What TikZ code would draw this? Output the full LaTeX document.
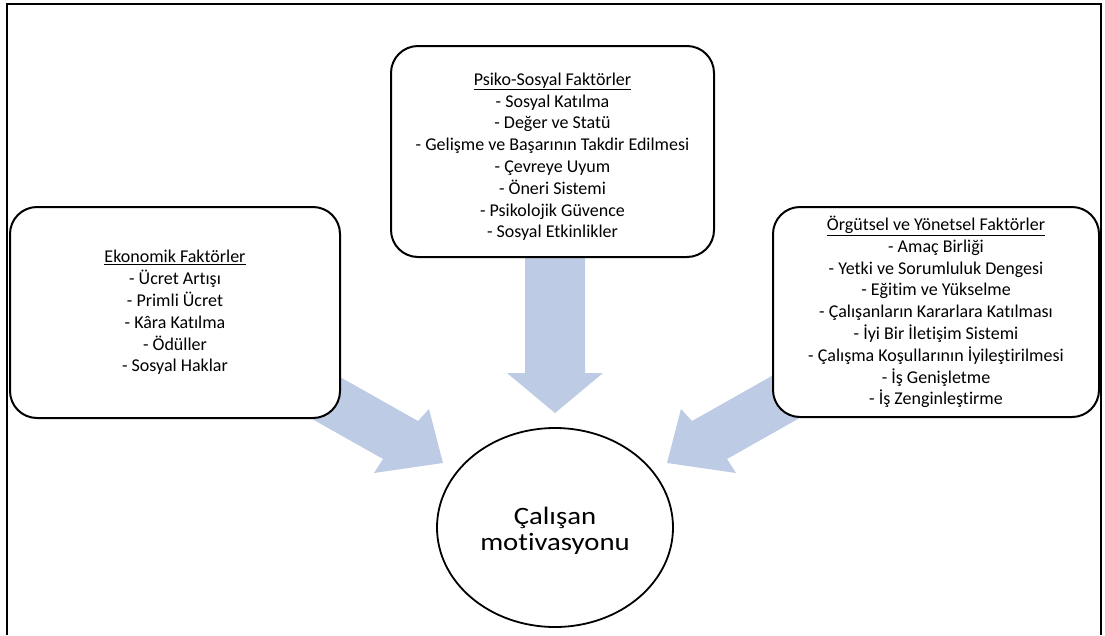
\documentclass[tikz,border=0pt]{standalone}
\usepackage{fontspec}
\setmainfont[Ligatures=NoCommon]{Carlito}
\usetikzlibrary{shapes.geometric}
\definecolor{arrowblue}{RGB}{189,204,228}
\tikzset{
  factorbox/.style={draw=black, line width=2pt, fill=white, rounded corners=27pt,
    align=center, inner sep=0pt, font=\fontsize{18}{21.8}\selectfont},
  blockarrow/.style={fill=arrowblue, draw=none},
  goal/.style={ellipse, draw=black, line width=1.8pt, fill=white, inner sep=0pt, align=center},
  frameline/.style={line width=2.2pt, draw=black}
}
\begin{document}
\begin{tikzpicture}[x=1pt,y=-1pt]
\useasboundingbox (0,0) rectangle (1105,635);
\draw[frameline] (7,635) -- (7,4) -- (1101,4) -- (1101,635);
% block arrows
\fill[blockarrow] (525,250) -- (585,250) -- (585,373) -- (603,373) -- (555,413) -- (507,373) -- (525,373) -- cycle;
\fill[blockarrow] (300,354.4) -- (418,421) -- (429,409) -- (443,463) -- (374,473) -- (383,459) -- (290,406.5) -- cycle;
\fill[blockarrow] (810,354.4) -- (692,421) -- (681,409) -- (667,463) -- (736,473) -- (727,459) -- (820,406.5) -- cycle;
% boxes
\node[factorbox, minimum width=323pt, minimum height=211pt] (psiko) at (552.5,151.5)
  {\rule{0pt}{23pt}\underline{Psiko-Sosyal Faktörler}\\
   - Sosyal Katılma\\
   - Değer ve Statü\\
   - Gelişme ve Başarının Takdir Edilmesi\\
   - Çevreye Uyum\\
   - Öneri Sistemi\\
   - Psikolojik Güvence\\
   - Sosyal Etkinlikler};
\node[factorbox, minimum width=330pt, minimum height=211pt] (ekonomik) at (175,312.5)
  {\underline{Ekonomik Faktörler}\\
   - Ücret Artışı\\
   - Primli Ücret\\
   - Kâra Katılma\\
   - Ödüller\\
   - Sosyal Haklar};
\node[factorbox, minimum width=326pt, minimum height=210pt] (orgutsel) at (936,312)
  {\underline{Örgütsel ve Yönetsel Faktörler}\\
   - Amaç Birliği\\
   - Yetki ve Sorumluluk Dengesi\\
   - Eğitim ve Yükselme\\
   - Çalışanların Kararlara Katılması\\
   - İyi Bir İletişim Sistemi\\
   - Çalışma Koşullarının İyileştirilmesi\\
   - İş Genişletme\\
   - İş Zenginleştirme};
% goal
\node[goal, minimum width=236pt, minimum height=199pt] (goal) at (555,527.5)
  {\scalebox{1.15}[1]{\fontsize{25}{26}\selectfont\begin{tabular}{@{}c@{}}\rule{0pt}{28pt}Çalışan\\ motivasyonu\end{tabular}}};
\end{tikzpicture}
\end{document}
